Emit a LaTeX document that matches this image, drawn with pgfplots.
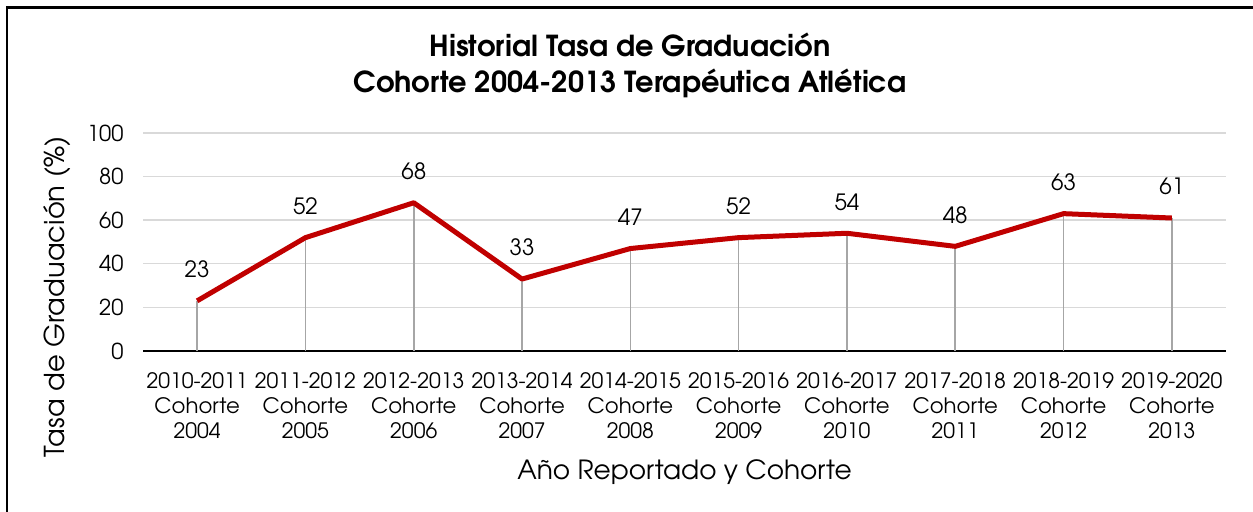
\documentclass[border=0pt]{standalone}
\usepackage{fontspec}
\setmainfont{texgyreadventor}[Extension=.otf,UprightFont=*-regular,BoldFont=*-bold]
\usepackage{pgfplots}
\pgfplotsset{compat=1.18}
\definecolor{linered}{HTML}{C00000}
\definecolor{gridgray}{HTML}{D9D9D9}
\definecolor{dropgray}{HTML}{A6A6A6}
\begin{document}
\begin{tikzpicture}[x=1bp,y=1bp]
\useasboundingbox (0,0) rectangle (1253,512);
\draw[line width=2.2bp] (7,-20) -- (7,504.5) -- (1280,504.5);
\node[font=\fontsize{29}{36}\selectfont\bfseries, align=center] at (630,447) {Historial Tasa de Graduación\\Cohorte 2004-2013 Terapéutica Atlética};
\begin{axis}[
  at={(143bp,161bp)}, anchor=south west,
  scale only axis, width=1083bp, height=218bp,
  xmin=-0.5, xmax=9.5, ymin=0, ymax=100,
  xtick={0,...,9},
  xticklabels={{2010-2011\\Cohorte\\2004},{2011-2012\\Cohorte\\2005},{2012-2013\\Cohorte\\2006},{2013-2014\\Cohorte\\2007},{2014-2015\\Cohorte\\2008},{2015-2016\\Cohorte\\2009},{2016-2017\\Cohorte\\2010},{2017-2018\\Cohorte\\2011},{2018-2019\\Cohorte\\2012},{2019-2020\\Cohorte\\2013}},
  x tick label style={align=center, font=\fontsize{21.3}{25}\selectfont, yshift=-18bp},
  ytick={0,20,...,100},
  y tick label style={font=\fontsize{22}{24}\selectfont, xshift=-16bp},
  /pgf/number format/assume math mode=true,
  major tick length=0pt,
  axis x line*=bottom, axis y line*=left,
  x axis line style={-, black, line width=1.6bp},
  y axis line style={draw=none},
  ymajorgrids, grid style={gridgray, line width=1.4bp},
  xlabel={Año Reportado y Cohorte},
  xlabel style={font=\fontsize{26.5}{30}\selectfont, yshift=-14bp},
  ylabel={Tasa de Graduación (\%)},
  ylabel style={font=\fontsize{27.5}{30}\selectfont, at={(axis description cs:-0.0794,0.248)}, anchor=center},
  clip=false,
]
\addplot[ycomb, dropgray, line width=1.5bp, mark=none] coordinates {(0,23) (1,52) (2,68) (3,33) (4,47) (5,52) (6,54) (7,48) (8,63) (9,61)};
\addplot[linered, line width=5bp, mark=none, line join=round,
  nodes near coords, every node near coord/.append style={black, font=\fontsize{22.5}{24}\selectfont, anchor=south, yshift=17bp}]
  coordinates {(0,23) (1,52) (2,68) (3,33) (4,47) (5,52) (6,54) (7,48) (8,63) (9,61)};
\end{axis}
\end{tikzpicture}
\end{document}
